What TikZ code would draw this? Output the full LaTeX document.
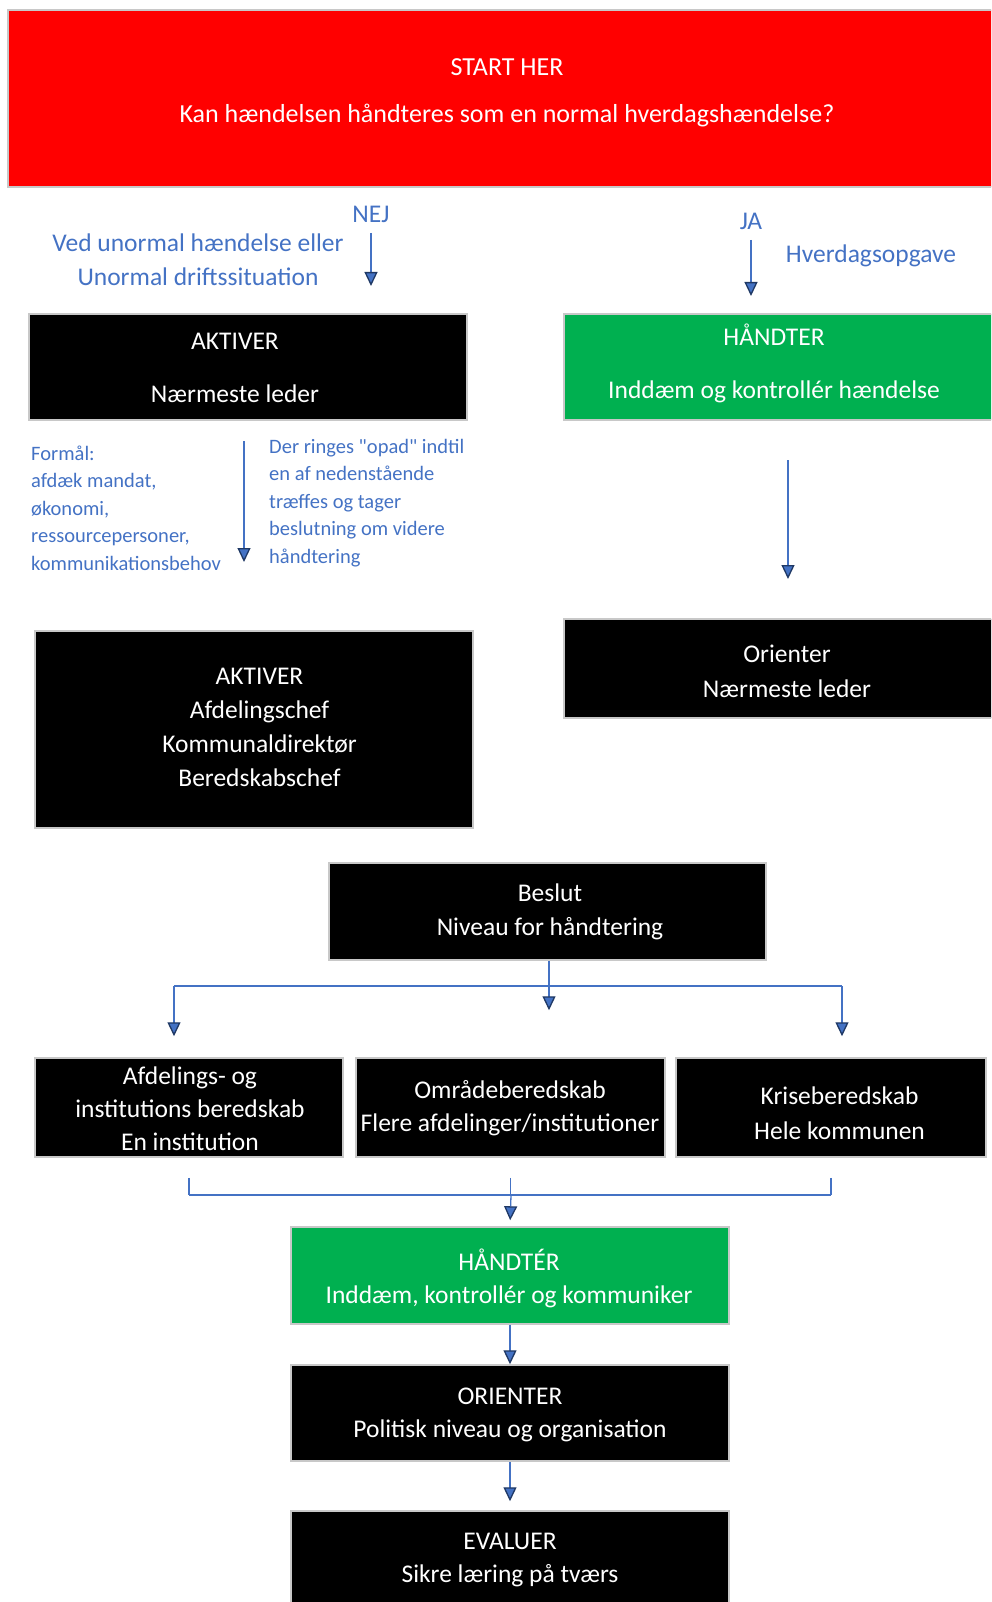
\documentclass[tikz,border=0pt]{standalone}
\usepackage{fontspec}
\setmainfont{Carlito}
\usetikzlibrary{arrows.meta}
\definecolor{alarmred}{HTML}{FF0000}
\definecolor{okgreen}{HTML}{00B050}
\definecolor{linkblue}{HTML}{4472C4}
\definecolor{tipnavy}{HTML}{1F3864}
\definecolor{edgegray}{HTML}{C8C8C8}
\begin{document}
\begin{tikzpicture}[x=1pt,y=-1pt,
  roedboks/.style={fill=alarmred,draw=edgegray,line width=1.5pt,inner sep=0pt},
  sortboks/.style={fill=black,draw=edgegray,line width=1.5pt,inner sep=0pt},
  groenboks/.style={sortboks,fill=okgreen},
  bokstekst/.style={text=white,align=center,inner sep=0pt,font=\fontsize{25.5}{34}\selectfont},
  blaatekst/.style={text=linkblue,align=center,inner sep=0pt,font=\fontsize{25.5}{34}\selectfont},
  smaatekst/.style={text=linkblue,align=left,anchor=west,inner sep=0pt,font=\fontsize{20.5}{27.5}\selectfont},
  streg/.style={draw=linkblue,line width=1.3pt},
  pil/.style={streg,-{Triangle[width=13pt,length=14pt,color=tipnavy,fill=linkblue]}}]
\useasboundingbox (0,0) rectangle (991,1602);
\clip (0,0) rectangle (991,1602);
\node (start) [roedboks,minimum width=998,minimum height=177] at (507,98.5) {};
\node (starttekst) [bokstekst,font=\fontsize{26}{34}\selectfont] at (507,92.5) {START HER\\[13pt]Kan hændelsen håndteres som en normal hverdagshændelse?};
\node (nej) [blaatekst] at (371,214) {NEJ};
\node (unormal) [blaatekst] at (198,260) {Ved unormal hændelse eller\\Unormal driftssituation};
\node (ja) [blaatekst] at (751,221) {JA};
\node (hverdag) [blaatekst] at (871,256) {Hverdagsopgave};
\coordinate (nejfra) at (371,233);
\coordinate (nejtil) at (371,286);
\coordinate (jafra) at (751,240);
\coordinate (jatil) at (751,296);
\draw [pil] (nejfra) -- (nejtil);
\draw [pil] (jafra) -- (jatil);
\node (aktiv1) [sortboks,minimum width=438,minimum height=106] at (248,367) {};
\node (aktiv1tekst) [bokstekst] at (235,367.5) {AKTIVER\\[19pt]Nærmeste leder};
\node (haandter1) [groenboks,minimum width=436,minimum height=106] at (782,367) {};
\node (haandter1tekst) [bokstekst] at (774,363.5) {HÅNDTER\\[19pt]Inddæm og kontrollér hændelse};
\node (formaal) [smaatekst] at (31,508) {Formål:\\afdæk mandat,\\økonomi,\\ressourcepersoner,\\kommunikationsbehov};
\node (opad) [smaatekst] at (269,503) {Der ringes \textquotedbl opad\textquotedbl{} indtil\\en af nedenstående\\træffes og tager\\beslutning om videre\\håndtering};
\coordinate (opadfra) at (244,441);
\coordinate (opadtil) at (244,562);
\coordinate (orientfra) at (788,460);
\coordinate (orienttil) at (788,579);
\draw [pil] (opadfra) -- (opadtil);
\draw [pil] (orientfra) -- (orienttil);
\node (orienter1) [sortboks,minimum width=446,minimum height=99] at (787,668.5) {};
\node (orienter1tekst) [bokstekst,font=\fontsize{25.5}{35}\selectfont] at (787,671) {Orienter\\Nærmeste leder};
\node (aktiv2) [sortboks,minimum width=438,minimum height=197] at (254,729.5) {};
\node (aktiv2tekst) [bokstekst] at (259.5,727) {AKTIVER\\Afdelingschef\\Kommunaldirektør\\Beredskabschef};
\node (beslut) [sortboks,minimum width=437,minimum height=97] at (547.5,911.5) {};
\node (beslutttekst) [bokstekst] at (550,911.5) {Beslut\\Niveau for håndtering};
\node (afdeling) [sortboks,minimum width=308,minimum height=99] at (189,1107.5) {};
\node (afdelingtekst) [bokstekst,font=\fontsize{25.5}{33}\selectfont] at (190,1108.5) {Afdelings- og\\institutions beredskab\\En institution};
\node (omraade) [sortboks,minimum width=309,minimum height=99] at (510.5,1107.5) {};
\node (omraadetekst) [bokstekst,font=\fontsize{25.5}{33}\selectfont] at (510,1108.5) {Områdeberedskab\\Flere afdelinger/institutioner};
\node (krise) [sortboks,minimum width=310,minimum height=99] at (831,1107.5) {};
\node (krisetekst) [bokstekst,font=\fontsize{25.5}{35}\selectfont] at (839.5,1113.5) {Kriseberedskab\\Hele kommunen};
\coordinate (gren) at (549,986);
\coordinate (grenv) at (174,986);
\coordinate (grenh) at (842,986);
\draw [streg] (beslut.south -| gren) -- (gren);
\draw [streg] (grenv) -- (grenh);
\draw [pil,shorten >=21pt] (grenv) -- (grenv |- afdeling.north);
\draw [pil,shorten >=47pt] (gren) -- (gren |- omraade.north);
\draw [pil,shorten >=21pt] (grenh) -- (grenh |- krise.north);
\node (haandter2) [groenboks,minimum width=438,minimum height=97] at (510,1275.5) {};
\node (haandter2tekst) [bokstekst,font=\fontsize{25.5}{33}\selectfont] at (509,1278.5) {HÅNDTÉR\\Inddæm, kontrollér og kommuniker};
\coordinate (samling) at (511,1195);
\draw [streg,shorten <=20pt] (afdeling.south) -- (afdeling.south |- samling);
\draw [streg,shorten <=20pt] (omraade.south) -- (omraade.south |- samling);
\draw [streg,shorten <=20pt] (krise.south) -- (krise.south |- samling);
\draw [streg] (afdeling.south |- samling) -- (krise.south |- samling);
\draw [pil,shorten >=6pt] (samling) -- (haandter2.north);
\node (orienter2) [sortboks,minimum width=438,minimum height=96] at (510,1413) {};
\node (orienter2tekst) [bokstekst,font=\fontsize{25.5}{33}\selectfont] at (510,1414.5) {ORIENTER\\Politisk niveau og organisation};
\node (evaluer) [sortboks,minimum width=438,minimum height=99] at (510,1560.5) {};
\node (evaluertekst) [bokstekst,font=\fontsize{25.5}{33}\selectfont] at (510,1559.5) {EVALUER\\Sikre læring på tværs};
\draw [pil] (haandter2.south) -- (orienter2.north);
\draw [pil,shorten >=9pt] (orienter2.south) -- (evaluer.north);
\end{tikzpicture}
\end{document}
